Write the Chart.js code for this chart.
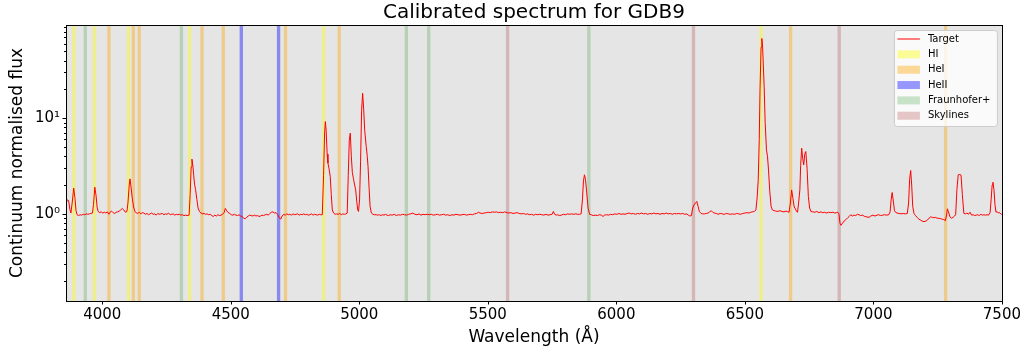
<!DOCTYPE html>
<html>
<head>
<meta charset="utf-8">
<title>Calibrated spectrum for GDB9</title>
<script src="https://cdn.jsdelivr.net/npm/chart.js@4.4.1/dist/chart.umd.min.js"></script>
<style>
    html, body { margin: 0; padding: 0; background: #fff; }
    #wrap { width: 1026px; height: 353px; }
</style>
</head>
<body>
<div id="wrap"><canvas id="spectrumChart" width="1026" height="353"></canvas></div>
<script>
// Spectrum: [wavelength (A), continuum normalised flux]
const targetSpectrum = [
    [3859,1.28],[3864,1.40],[3869,1.38],[3874,1.12],[3878,1.02],[3883,1.30],[3889,1.86],[3894,1.45],[3898,1.08],[3902,0.98],
    [3908,0.96],[3914,0.98],[3920,0.97],[3926,0.99],[3932,0.98],[3938,1.00],[3944,0.99],[3950,1.00],[3956,1.01],[3962,1.02],
    [3966,1.25],[3971,1.90],[3976,1.55],[3980,1.18],[3984,1.06],[3990,1.03],[3996,1.05],[4002,1.02],[4008,1.04],[4014,1.02],
    [4020,1.05],[4026,0.99],[4030,1.04],[4036,1.07],[4042,1.03],[4048,1.01],[4054,1.04],[4060,1.05],[4066,1.07],[4072,1.10],
    [4078,1.14],[4084,1.10],[4090,1.04],[4096,1.06],[4100,1.30],[4105,2.00],[4108,2.32],[4112,1.90],[4117,1.45],[4122,1.18],
    [4127,1.06],[4132,1.03],[4138,1.01],[4144,1.04],[4150,1.00],[4156,1.03],[4162,1.02],[4168,0.99],[4174,1.01],[4180,0.98],
    [4186,1.00],[4192,1.02],[4198,0.99],[4204,1.00],[4210,0.97],[4216,1.01],[4222,0.99],[4228,1.00],[4234,1.01],[4240,0.98],
    [4246,1.00],[4252,0.99],[4258,1.02],[4264,0.98],[4270,0.99],[4276,1.00],[4282,0.97],[4288,0.99],[4294,0.98],[4300,0.99],
    [4306,0.97],[4312,0.98],[4318,0.96],[4324,0.97],[4330,0.96],[4338,0.97],[4342,1.60],[4346,3.10],[4349,3.73],[4353,3.10],
    [4356,2.50],[4359,2.05],[4363,1.80],[4368,1.42],[4373,1.15],[4378,1.06],[4384,1.02],[4390,1.00],[4396,1.01],[4402,0.99],
    [4408,1.00],[4414,0.98],[4420,0.99],[4426,0.96],[4432,0.94],[4438,0.97],[4444,0.95],[4450,0.98],[4456,0.96],[4462,0.97],
    [4468,0.99],[4474,1.03],[4479,1.14],[4484,1.08],[4490,1.03],[4496,1.01],[4502,0.98],[4508,0.97],[4514,0.99],[4520,0.97],
    [4526,0.96],[4532,0.98],[4538,0.95],[4544,0.94],[4550,0.90],[4556,0.89],[4562,0.92],[4568,0.95],[4574,0.97],[4580,0.96],
    [4586,0.95],[4592,0.97],[4598,0.95],[4604,0.96],[4610,0.94],[4616,0.95],[4622,0.97],[4628,0.96],[4634,0.98],[4640,0.99],
    [4646,0.97],[4652,1.01],[4658,1.04],[4664,1.05],[4670,1.02],[4676,1.03],[4682,0.99],[4688,0.92],[4694,0.88],[4700,0.95],
    [4706,0.99],[4712,0.97],[4718,1.00],[4724,0.98],[4730,0.99],[4736,0.97],[4742,1.00],[4748,0.98],[4754,0.99],[4760,1.00],
    [4766,0.97],[4772,0.99],[4778,0.98],[4784,1.00],[4790,0.98],[4796,0.99],[4802,0.97],[4808,0.98],[4814,1.00],[4820,0.97],
    [4826,0.99],[4832,0.98],[4838,0.97],[4844,0.99],[4850,0.98],[4856,0.98],[4861,2.50],[4865,7.00],[4868,9.20],[4871,7.50],
    [4875,4.20],[4878,3.40],[4882,3.00],[4887,2.45],[4891,1.60],[4895,1.10],[4900,1.02],[4906,0.99],[4912,1.00],[4918,0.99],
    [4924,1.01],[4930,0.98],[4936,1.00],[4942,0.99],[4948,1.00],[4953,1.02],[4957,2.50],[4961,5.80],[4965,6.97],[4969,4.00],
    [4973,2.70],[4978,2.27],[4982,2.00],[4986,1.78],[4990,1.35],[4994,1.10],[4997,1.06],[5001,1.40],[5005,3.50],[5009,12.0],
    [5013,18.2],[5017,12.5],[5021,7.50],[5027,5.05],[5031,4.00],[5034,3.13],[5038,1.90],[5042,1.20],[5047,1.02],[5053,0.99],
    [5059,0.98],[5066,0.98],[5072,0.97],[5078,0.98],[5084,0.96],[5090,0.98],[5096,0.97],[5102,0.99],[5108,0.97],[5114,0.96],
    [5120,0.98],[5128,0.97],[5136,0.99],[5144,0.96],[5152,0.98],[5160,0.97],[5168,0.99],[5176,0.98],[5184,0.97],[5192,0.99],
    [5200,1.00],[5208,1.02],[5216,0.99],[5224,0.98],[5232,1.00],[5240,0.97],[5248,0.99],[5256,0.98],[5264,0.99],[5272,0.98],
    [5280,0.99],[5288,0.97],[5296,0.98],[5304,0.99],[5312,0.97],[5320,0.98],[5328,0.99],[5336,0.97],[5344,0.98],[5352,0.96],
    [5360,0.98],[5368,0.97],[5376,0.99],[5384,0.98],[5392,0.97],[5400,0.98],[5408,0.99],[5416,0.97],[5424,0.98],[5432,0.99],
    [5440,0.98],[5448,1.00],[5456,1.01],[5464,1.04],[5470,1.02],[5478,1.01],[5486,1.02],[5494,1.03],[5502,1.04],[5510,1.03],
    [5518,1.05],[5526,1.04],[5534,1.05],[5542,1.03],[5550,1.04],[5558,1.03],[5566,1.05],[5574,1.03],[5582,1.02],[5590,1.03],
    [5598,1.01],[5606,1.02],[5614,1.03],[5622,1.01],[5630,1.00],[5638,1.01],[5646,0.99],[5654,1.00],[5662,0.98],[5670,0.99],
    [5678,0.97],[5686,0.99],[5694,0.98],[5702,0.99],[5710,0.98],[5718,0.97],[5726,0.99],[5734,0.97],[5742,0.98],[5750,0.99],
    [5755,1.06],[5760,0.99],[5766,0.97],[5772,0.98],[5778,0.96],[5786,0.97],[5794,0.99],[5802,0.98],[5810,1.00],[5818,0.99],
    [5826,1.00],[5834,0.99],[5842,1.00],[5850,0.99],[5857,0.99],[5863,1.00],[5868,1.40],[5872,2.20],[5876,2.56],[5880,2.30],
    [5885,1.65],[5890,1.15],[5896,0.99],[5902,0.98],[5910,0.96],[5918,0.97],[5926,0.96],[5934,0.98],[5942,0.97],[5948,0.94],
    [5954,0.97],[5962,0.98],[5970,0.97],[5978,0.99],[5986,0.98],[5994,1.00],[6002,0.99],[6010,1.01],[6018,0.99],[6026,1.00],
    [6034,0.99],[6042,1.01],[6050,1.02],[6058,1.00],[6066,1.01],[6074,0.99],[6082,1.01],[6090,1.00],[6098,1.02],[6106,1.00],
    [6114,1.01],[6122,0.99],[6130,1.01],[6138,1.00],[6146,1.02],[6154,1.00],[6162,1.01],[6170,0.99],[6178,1.01],[6186,1.00],
    [6194,1.02],[6202,1.00],[6210,1.01],[6218,0.99],[6226,1.01],[6234,1.00],[6242,1.01],[6250,1.00],[6258,1.01],[6266,0.99],
    [6274,1.00],[6280,0.97],[6286,0.95],[6292,0.96],[6297,1.15],[6302,1.24],[6308,1.30],[6313,1.35],[6318,1.20],[6323,1.06],
    [6330,1.01],[6336,1.00],[6343,1.00],[6350,1.01],[6357,1.02],[6363,1.05],[6369,1.08],[6375,1.04],[6381,1.02],[6389,1.01],
    [6396,0.99],[6404,1.01],[6412,1.00],[6420,0.99],[6428,1.01],[6436,1.00],[6444,0.99],[6452,1.00],[6460,0.99],[6468,1.01],
    [6476,1.00],[6484,0.99],[6492,1.01],[6500,1.02],[6508,1.03],[6516,1.02],[6523,1.04],[6530,1.05],[6537,1.06],[6543,1.10],
    [6548,1.50],[6552,2.27],[6556,6.00],[6559,20.0],[6563,55.0],[6566,68.0],[6569,55.0],[6572,35.0],[6575,21.4],[6579,9.00],
    [6584,4.66],[6588,4.00],[6592,2.88],[6597,1.70],[6602,1.20],[6607,1.10],[6614,1.08],[6620,1.07],[6628,1.06],[6636,1.08],
    [6644,1.06],[6652,1.05],[6660,1.07],[6667,1.05],[6672,1.04],[6677,1.30],[6682,1.78],[6687,1.45],[6692,1.18],[6697,1.12],
    [6701,1.06],[6705,1.04],[6709,1.30],[6714,1.78],[6717,3.20],[6721,4.86],[6725,3.80],[6729,3.25],[6733,4.20],[6737,4.48],
    [6742,3.00],[6747,1.52],[6752,1.15],[6757,1.06],[6764,1.05],[6772,1.04],[6780,1.06],[6788,1.03],[6796,1.05],[6802,1.03],
    [6810,1.04],[6818,1.02],[6826,1.04],[6834,1.03],[6842,1.04],[6850,1.02],[6856,1.03],[6862,1.04],[6866,1.00],[6870,0.80],
    [6874,0.76],[6880,0.80],[6886,0.84],[6893,0.87],[6900,0.91],[6906,0.94],[6912,0.98],[6918,0.95],[6924,0.97],[6931,0.96],
    [6938,0.99],[6944,0.98],[6950,0.96],[6958,0.97],[6966,0.94],[6974,0.93],[6983,0.92],[6990,0.95],[6998,0.97],[7006,0.95],
    [7014,0.97],[7021,0.98],[7028,0.96],[7036,0.97],[7044,0.98],[7052,0.97],[7060,0.98],[7065,1.05],[7069,1.40],[7073,1.67],
    [7077,1.40],[7082,1.08],[7086,1.04],[7092,1.02],[7100,1.01],[7108,1.00],[7116,1.01],[7124,1.00],[7132,1.01],[7137,1.30],
    [7141,2.30],[7145,2.84],[7149,2.00],[7153,1.20],[7158,1.01],[7164,0.96],[7170,0.92],[7177,0.88],[7184,0.86],[7190,0.84],
    [7197,0.83],[7204,0.84],[7210,0.86],[7216,0.90],[7223,0.93],[7230,0.92],[7236,0.91],[7242,0.92],[7248,0.90],[7255,0.90],
    [7262,0.89],[7268,0.88],[7274,0.87],[7280,0.85],[7284,0.95],[7288,1.13],[7292,1.05],[7298,0.93],[7304,0.90],[7310,0.92],
    [7316,0.95],[7320,0.98],[7325,1.80],[7330,2.56],[7336,2.58],[7341,2.54],[7346,1.60],[7352,1.01],[7358,1.00],[7364,1.02],
    [7370,0.99],[7376,1.04],[7382,0.97],[7388,0.98],[7394,0.96],[7400,0.97],[7406,0.98],[7412,0.96],[7418,0.99],[7424,0.97],
    [7430,0.98],[7436,0.97],[7442,0.98],[7448,0.97],[7454,1.03],[7458,1.40],[7462,2.00],[7465,2.14],[7469,1.80],[7473,1.25],
    [7477,1.04],[7481,1.06],[7486,1.02],[7492,1.03],[7500,0.98]
];

// Line lists (A) drawn as vertical bands
const hiLines = [3889, 3970, 4102, 4340, 4861, 6563];
const heiLines = [4026, 4121, 4144, 4388, 4471, 4713, 4922, 6678, 7281];
const heiiLines = [4541, 4686];
const fraunhoferLines = [3934, 4308, 5183, 5270, 5893];
const skyLines = [5577, 6300, 6867];
const bandWidth = 13;

// Axis ticks
const xTicks = [4000, 4500, 5000, 5500, 6000, 6500, 7000, 7500];
const yMajorTicks = [1, 10];
const yMinorTicks = [0.2, 0.3, 0.4, 0.5, 0.6, 0.7, 0.8, 0.9, 2, 3, 4, 5, 6, 7, 8, 9, 20, 30, 40, 50, 60, 70, 80, 90];
const yTickLabels = { 1: '10⁰', 10: '10¹' };

const lineGroups = [
    { label: 'HI', lines: hiLines, color: 'rgba(255, 255, 0, 0.4)' },
    { label: 'HeI', lines: heiLines, color: 'rgba(255, 165, 0, 0.4)' },
    { label: 'HeII', lines: heiiLines, color: 'rgba(0, 0, 255, 0.4)' },
    { label: 'Fraunhofer+', lines: fraunhoferLines, color: 'rgba(0, 128, 0, 0.2)' },
    { label: 'Skylines', lines: skyLines, color: 'rgba(165, 42, 42, 0.25)' }
];

Chart.defaults.font.family = '"DejaVu Sans", sans-serif';
Chart.defaults.color = '#000';

// Gray plot background and the line bands, under the spectrum
const bandsPlugin = {
    id: 'bands',
    beforeDatasetsDraw(chart) {
        const { ctx, chartArea: ca, scales: { x } } = chart;
        ctx.save();
        ctx.fillStyle = '#e5e5e5';
        ctx.fillRect(ca.left, ca.top, ca.right - ca.left, ca.bottom - ca.top);
        ctx.beginPath();
        ctx.rect(ca.left, ca.top, ca.right - ca.left, ca.bottom - ca.top);
        ctx.clip();
        lineGroups.forEach(group => {
            ctx.fillStyle = group.color;
            group.lines.forEach(l => {
                const x0 = x.getPixelForValue(l - bandWidth / 2);
                const x1 = x.getPixelForValue(l + bandWidth / 2);
                ctx.fillRect(x0, ca.top, x1 - x0, ca.bottom - ca.top);
            });
        });
        ctx.restore();
    }
};

// Frame, tick marks and the legend box
const framePlugin = {
    id: 'frame',
    afterDraw(chart) {
        const { ctx, chartArea: ca, scales: { x, y } } = chart;
        ctx.save();
        ctx.strokeStyle = '#000';
        ctx.lineWidth = 1;
        ctx.beginPath();
        x.ticks.forEach(t => {
            const px = Math.round(x.getPixelForValue(t.value)) + 0.5;
            ctx.moveTo(px, ca.bottom);
            ctx.lineTo(px, ca.bottom + 3.5);
        });
        y.ticks.forEach(t => {
            const py = Math.round(y.getPixelForValue(t.value)) + 0.5;
            const len = yMajorTicks.includes(t.value) ? 3.5 : 2;
            ctx.moveTo(ca.left, py);
            ctx.lineTo(ca.left - len, py);
        });
        ctx.stroke();
        ctx.strokeRect(Math.round(ca.left) + 0.5, Math.round(ca.top) + 0.5,
            Math.round(ca.right - ca.left), Math.round(ca.bottom - ca.top));

        // legend
        const w = 103, h = 96;
        const lx = ca.right - 5 - w, ly = ca.top + 5;
        ctx.beginPath();
        ctx.roundRect(lx + 0.5, ly + 0.5, w, h, 3);
        ctx.fillStyle = 'rgba(255, 255, 255, 0.8)';
        ctx.fill();
        ctx.strokeStyle = '#cccccc';
        ctx.stroke();

        const items = [{ label: 'Target', line: 'red' }].concat(lineGroups);
        ctx.font = '10px "DejaVu Sans"';
        ctx.textBaseline = 'middle';
        items.forEach((item, i) => {
            const ry = ly + 9 + i * 15.35;
            if (item.line) {
                ctx.strokeStyle = item.line;
                ctx.beginPath();
                ctx.moveTo(lx + 3.5, ry);
                ctx.lineTo(lx + 26, ry);
                ctx.stroke();
            } else {
                ctx.fillStyle = item.color;
                ctx.fillRect(lx + 3.5, ry - 4, 22.5, 8);
            }
            ctx.fillStyle = '#000';
            ctx.fillText(item.label, lx + 34, ry);
        });
        ctx.restore();
    }
};

new Chart(document.getElementById('spectrumChart'), {
    type: 'line',
    data: {
        datasets: [{
            label: 'Target',
            data: targetSpectrum.map(p => ({ x: p[0], y: p[1] })),
            borderColor: '#ff0000',
            borderWidth: 1,
            pointRadius: 0,
            tension: 0,
            fill: false
        }]
    },
    options: {
        responsive: false,
        animation: false,
        layout: { padding: { left: 0, right: 23, top: 0, bottom: 0 } },
        plugins: {
            legend: { display: false },
            tooltip: { enabled: false },
            title: {
                display: true,
                fullSize: false,
                text: 'Calibrated spectrum for GDB9',
                font: { size: 20, weight: 'normal' },
                padding: { top: 1, bottom: 0 }
            }
        },
        scales: {
            x: {
                type: 'linear',
                min: 3859,
                max: 7500,
                afterBuildTicks: s => { s.ticks = xTicks.map(v => ({ value: v })); },
                afterFit: s => { s.height = 52; },
                grid: { display: false, drawTicks: false },
                border: { display: false },
                ticks: {
                    padding: 5,
                    font: { size: 15 },
                    maxRotation: 0,
                    autoSkip: false,
                    callback: v => String(v)
                },
                title: {
                    display: true,
                    text: 'Wavelength (Å)',
                    font: { size: 17 },
                    padding: { top: 0, bottom: 5 }
                }
            },
            y: {
                type: 'logarithmic',
                min: 0.123,
                max: 94,
                afterBuildTicks: s => {
                    s.ticks = yMinorTicks.concat(yMajorTicks).sort((a, b) => a - b).map(v => ({ value: v }));
                },
                afterFit: s => { s.width = 66; },
                grid: { display: false, drawTicks: false },
                border: { display: false },
                ticks: {
                    padding: 6,
                    font: { size: 15 },
                    autoSkip: false,
                    callback: v => yTickLabels[v] || ''
                },
                title: {
                    display: true,
                    text: 'Continuum normalised flux',
                    font: { size: 17 },
                    padding: { top: 7, bottom: 0 }
                }
            }
        }
    },
    plugins: [bandsPlugin, framePlugin]
});
</script>
</body>
</html>
